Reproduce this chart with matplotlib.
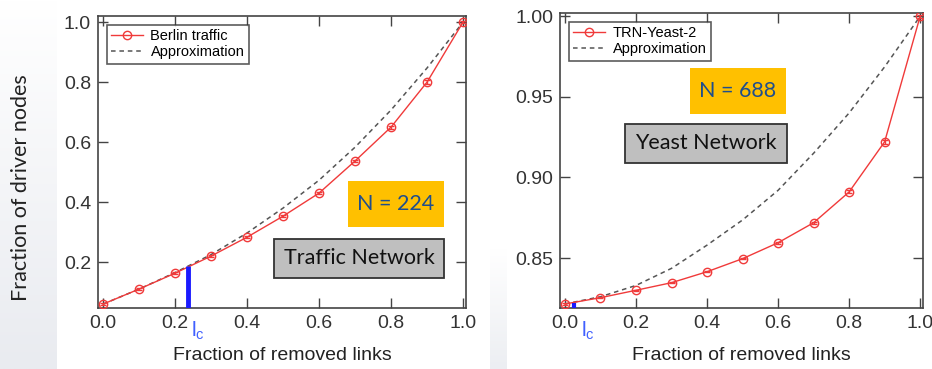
import numpy as np
import matplotlib
matplotlib.use("Agg")
import matplotlib.pyplot as plt
from matplotlib.patches import Rectangle

# --- data ---
x_frac = [0.0, 0.1, 0.2, 0.3, 0.4, 0.5, 0.6, 0.7, 0.8, 0.9, 1.0]

berlin = [0.060, 0.110, 0.163, 0.220, 0.283, 0.353, 0.430, 0.537, 0.650, 0.800, 1.000]
berlin_err = [0.004, 0.003, 0.003, 0.003, 0.004, 0.004, 0.004, 0.004, 0.005, 0.006, 0.004]
berlin_approx = [0.060, 0.110, 0.165, 0.225, 0.297, 0.380, 0.473, 0.583, 0.707, 0.847, 1.000]
berlin_lc = 0.237
berlin_lc_top = 0.187

yeast = [0.8215, 0.8254, 0.8300, 0.8347, 0.8415, 0.8496, 0.8595, 0.8719, 0.8910, 0.9221, 1.0000]
yeast_err = [0.0006, 0.0004, 0.0004, 0.0004, 0.0004, 0.0005, 0.0006, 0.0007, 0.0009, 0.0012, 0.0008]
yeast_approx = [0.8215, 0.8260, 0.8330, 0.8436, 0.8580, 0.8736, 0.8920, 0.9150, 0.9400, 0.9686, 1.0000]
yeast_lc = 0.025
yeast_lc_top = 0.8222

plt.rcParams['font.family'] = ['Liberation Sans', 'DejaVu Sans']
plt.rcParams['mathtext.default'] = 'regular'

W, H = 932, 369
fig = plt.figure(figsize=(W / 100, H / 100), dpi=100)
fig.patch.set_facecolor('white')

# slide background strips (light gradient)
grad = np.linspace(1.0, 0.0, 256).reshape(-1, 1)
bg = fig.add_axes([0, 0, 57 / W, 1], zorder=-10)
bg.imshow(grad, aspect='auto', cmap=matplotlib.colors.LinearSegmentedColormap.from_list(
    'g', ['#e9ebf0', '#ffffff']), extent=[0, 1, 0, 1])
bg.axis('off')
bg2 = fig.add_axes([490 / W, 0, 17 / W, 120 / H], zorder=-10)
bg2.imshow(grad, aspect='auto', cmap=matplotlib.colors.LinearSegmentedColormap.from_list(
    'g2', ['#eceef2', '#ffffff']), extent=[0, 1, 0, 1])
bg2.axis('off')

red = '#f03a3a'
blue = '#1a1aff'
lc_blue = '#4060ff'


def panel(rect, y, yerr, approx, label, ylim, yticks, yfmt, lc, lc_top, lc_lw, lc_lab_x):
    ax = fig.add_axes(rect)
    eb = ax.errorbar(x_frac, y, yerr=yerr, color=red, lw=1.0, marker='o', ms=6,
                     mfc='none', mec=red, mew=1.0, capsize=2, elinewidth=1.0,
                     zorder=3)
    ap, = ax.plot(x_frac, approx, ls=(0, (3, 2.5)), color='#555555', lw=1.1, zorder=2)
    ax.plot([lc, lc], [ylim[0], lc_top], color=blue, lw=lc_lw, zorder=4,
            solid_capstyle='butt')
    ax.set_xlim(-0.014, 1.008)
    ax.set_ylim(*ylim)
    ax.set_xticks([0.0, 0.2, 0.4, 0.6, 0.8, 1.0])
    ax.set_xticklabels(['0.0', '0.2', '0.4', '0.6', '0.8', '1.0'])
    ax.set_yticks(yticks)
    ax.set_yticklabels([yfmt.format(v) for v in yticks])
    ax.tick_params(direction='in', top=True, right=True, length=7, width=1,
                   labelsize=14, labelcolor='#333333', color='#444444', pad=5)
    for s in ax.spines.values():
        s.set_color('#444444')
        s.set_linewidth(1.2)
    ax.set_xlabel('Fraction of removed links', fontsize=14, color='#222222', labelpad=11)
    leg = ax.legend([eb.lines[0], ap], [label, 'Approximation'], loc='upper left',
                    fontsize=10.5, frameon=True, fancybox=False,
                    edgecolor='#333333', borderpad=0.3, labelspacing=0.15,
                    handlelength=2.2, handletextpad=0.5, borderaxespad=0.6)
    leg.get_frame().set_linewidth(1.2)
    ax.text(lc_lab_x, -0.04, r'$l_c$', transform=ax.get_xaxis_transform(),
            color=lc_blue, fontsize=15, ha='left', va='top')
    return ax


axL = panel([98 / W, 1 - 308 / H, 368 / W, 292 / H], berlin, berlin_err, berlin_approx,
            'Berlin traffic', (0.047, 1.02), [0.2, 0.4, 0.6, 0.8, 1.0], '{:.1f}',
            berlin_lc, berlin_lc_top, 3.5, 0.243)
axR = panel([560 / W, 1 - 308 / H, 363 / W, 295 / H], yeast, yeast_err, yeast_approx,
            'TRN-Yeast-2', (0.819, 1.002), [0.85, 0.90, 0.95, 1.00], '{:.2f}',
            yeast_lc, yeast_lc_top, 3.0, 0.045)

fig.text(21 / W, 1 - 188 / H, 'Fraction of driver nodes', rotation=90, ha='center',
         va='center', fontsize=15.5, family=['Lato', 'DejaVu Sans'], color='#222222')


def box(x0, y0, x1, y1, text, fc, tc, ec=None):
    r = Rectangle((x0 / W, 1 - y1 / H), (x1 - x0) / W, (y1 - y0) / H,
                  transform=fig.transFigure, facecolor=fc,
                  edgecolor=ec if ec else fc, lw=1.3 if ec else 0, zorder=10)
    fig.add_artist(r)
    fig.text((x0 + x1) / 2 / W, 1 - (y0 + y1) / 2 / H, text, ha='center', va='center',
             fontsize=15.5, color=tc, family=['Lato', 'DejaVu Sans'], zorder=11)


box(348, 181, 444, 227, 'N = 224', '#ffc000', '#1f4e8c')
box(274, 239, 444, 278, 'Traffic Network', '#bfbfbf', '#111111', '#333333')
box(690, 68, 786, 114, 'N = 688', '#ffc000', '#1f4e8c')
box(625, 124, 787, 163, 'Yeast Network', '#bfbfbf', '#111111', '#333333')

fig.savefig('out.png', dpi=100)
